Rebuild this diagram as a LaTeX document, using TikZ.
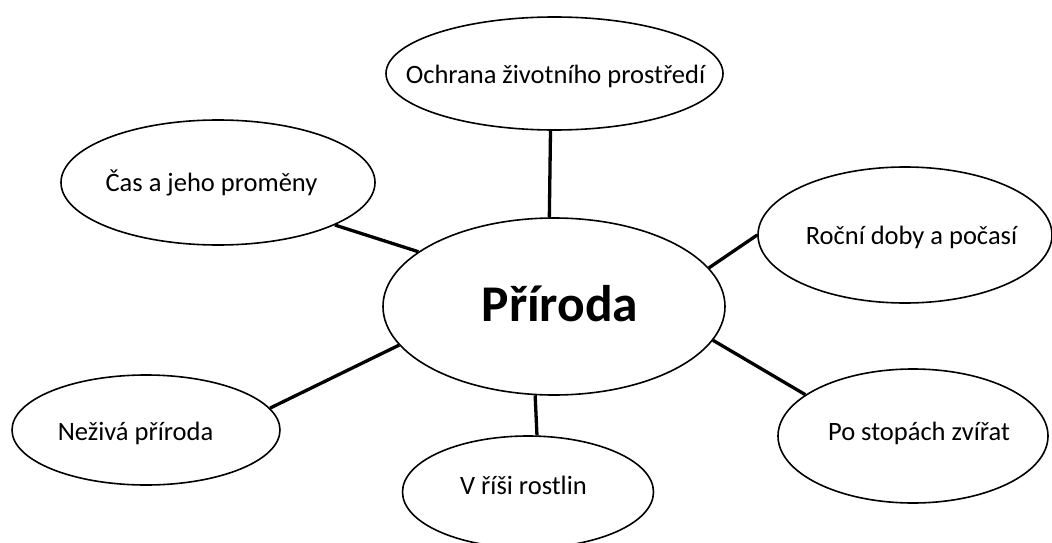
\documentclass[tikz,border=0pt]{standalone}
\usepackage{fontspec}
\setmainfont{Carlito}
\colorlet{colorTopic}{black}
\usepackage{tikz}
\usetikzlibrary{shapes.geometric, positioning}
\tikzset{topic/.style={ellipse, draw=colorTopic, line width=1.6pt, inner sep=0pt}}
% text of a topic, moved by dx and raised by dy from the centre of its ellipse
\newcommand{\topictext}[3]{\rlap{\hspace*{#1}\raisebox{#2}[0pt][0pt]{\makebox[0pt]{#3}}}}

\begin{document}
\begin{tikzpicture}[x=1pt, y=-1pt, line width=3.3pt, every node/.style={font=\fontsize{26.5}{30}\selectfont}]
\useasboundingbox (0,0) rectangle (1052,543);
\node[topic, minimum width=342pt, minimum height=177pt, font=\fontsize{51.5}{56}\selectfont\bfseries] (p0) at (554,306.5) {\topictext{6pt}{-15pt}{Příroda}};
\node[topic, minimum width=337pt, minimum height=113pt] (p1) at (554.5,73.5) {\topictext{1pt}{-10pt}{Ochrana životního prostředí}};
\node[topic, minimum width=314pt, minimum height=125pt] (p2) at (218,182.5) {\topictext{-6.5pt}{-8.5pt}{Čas a jeho proměny}};
\node[topic, minimum width=294pt, minimum height=136pt] (p3) at (905,235) {\topictext{6.5pt}{-9pt}{Roční doby a počasí}};
\node[topic, minimum width=270pt, minimum height=134pt] (p4) at (913,436) {\topictext{6pt}{-4pt}{Po stopách zvířat}};
\node[topic, minimum width=251pt, minimum height=112pt] (p5) at (528,492) {\topictext{-4.5pt}{-2pt}{V říši rostlin}};
\node[topic, minimum width=268pt, minimum height=110pt] (p6) at (146,430) {\topictext{-10.5pt}{-10pt}{Neživá příroda}};
\draw (p0.93) -- (p1.266);
\draw (p0.158.5) -- (p2.340.5);
\draw (p0.14.6) -- (p3.180.8);
\draw (p0.348) -- (p4.159.7);
\draw (p0.258.2) -- (p5.81.9);
\draw (p0.194.9) -- (p6.10.9);
\end{tikzpicture}
\end{document}
